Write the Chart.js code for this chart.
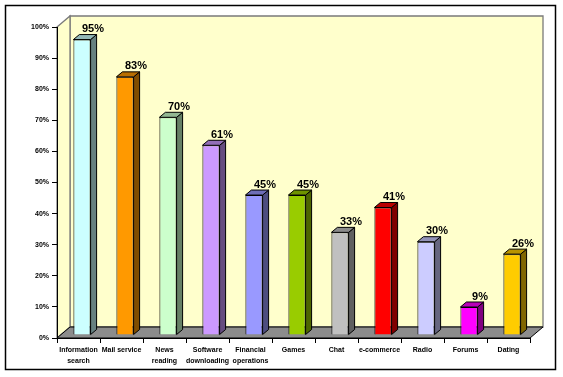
<!DOCTYPE html>
<html>
<head>
<meta charset="utf-8">
<script src="https://cdn.jsdelivr.net/npm/chart.js@4"></script>
<style>
  html, body { margin: 0; padding: 0; background: #fff; }
  #wrap { width: 563px; height: 377px; }
</style>
</head>
<body>
<div id="wrap"><canvas id="chart" width="563" height="377"></canvas></div>
<script>
// internet usage by activity, 3D column look
const categories = [
  ["Information", "search"], "Mail service", ["News", "reading"],
  ["Software", "downloading"], ["Financial", "operations"], "Games",
  "Chat", "e-commerce", "Radio", "Forums", "Dating"
];
const shares = [95, 83, 70, 61, 45, 45, 33, 41, 30, 9, 26];
const yTicks = [0, 10, 20, 30, 40, 50, 60, 70, 80, 90, 100];

const faceColors = [
  "#CCFFFF", "#FF9900", "#CCFFCC", "#CC99FF", "#9999FF", "#99CC00",
  "#C0C0C0", "#FF0000", "#CCCCFF", "#FF00FF", "#FFCC00"
];

const FONT = "'Liberation Sans', Arial, sans-serif";
const DEPTH_X = 13, DEPTH_Y = -11;      // floor / wall depth
const BAR_DX = 3.5, BAR_DY = -3;        // bar placed in middle of floor
const SIDE_X = 6, SIDE_Y = -5;          // bar thickness

function shade(hex, k) {
  const n = parseInt(hex.slice(1), 16);
  const r = Math.round(((n >> 16) & 255) * k);
  const g = Math.round(((n >> 8) & 255) * k);
  const b = Math.round((n & 255) * k);
  return `rgb(${r},${g},${b})`;
}

function poly(ctx, pts, fill, stroke, lw) {
  ctx.beginPath();
  ctx.moveTo(pts[0][0], pts[0][1]);
  for (let i = 1; i < pts.length; i++) ctx.lineTo(pts[i][0], pts[i][1]);
  ctx.closePath();
  if (fill) { ctx.fillStyle = fill; ctx.fill(); }
  if (stroke) { ctx.strokeStyle = stroke; ctx.lineWidth = lw || 1; ctx.stroke(); }
}

const frame3d = {
  id: "frame3d",
  beforeDraw(chart) {
    const { ctx, chartArea: a } = chart;
    ctx.save();
    ctx.fillStyle = "#fff";
    ctx.fillRect(0, 0, chart.width, chart.height);
    // back wall
    poly(ctx, [[a.left + DEPTH_X, a.top + DEPTH_Y], [a.right + DEPTH_X, a.top + DEPTH_Y],
               [a.right + DEPTH_X, a.bottom + DEPTH_Y], [a.left + DEPTH_X, a.bottom + DEPTH_Y]],
         "#FFFFCC", "#7a7a7a", 1.3);
    // side wall
    poly(ctx, [[a.left, a.top], [a.left + DEPTH_X, a.top + DEPTH_Y],
               [a.left + DEPTH_X, a.bottom + DEPTH_Y], [a.left, a.bottom]],
         "#FFFFCC", "#7a7a7a", 1.3);
    // floor
    poly(ctx, [[a.left, a.bottom], [a.right, a.bottom],
               [a.right + DEPTH_X, a.bottom + DEPTH_Y], [a.left + DEPTH_X, a.bottom + DEPTH_Y]],
         "#8C8C8C", "#000");
    ctx.restore();
  },
  beforeDatasetsDraw(chart) {
    chart.ctx.save();
    chart.ctx.translate(BAR_DX, BAR_DY);
  },
  afterDatasetsDraw(chart) {
    const ctx = chart.ctx;
    const meta = chart.getDatasetMeta(0);
    meta.data.forEach((bar, i) => {
      const l = bar.x - bar.width / 2, r = bar.x + bar.width / 2;
      const t = bar.y, b = bar.base;
      const c = faceColors[i];
      poly(ctx, [[r, t], [r + SIDE_X, t + SIDE_Y], [r + SIDE_X, b + SIDE_Y], [r, b]],
           shade(c, 0.5), "#000");
      poly(ctx, [[l, t], [r, t], [r + SIDE_X, t + SIDE_Y], [l + SIDE_X, t + SIDE_Y]],
           shade(c, 0.72), "#000");
    });
    ctx.restore();
    // value labels
    ctx.save();
    ctx.font = `bold 11px ${FONT}`;
    ctx.fillStyle = "#000";
    ctx.textAlign = "center";
    ctx.textBaseline = "middle";
    meta.data.forEach((bar, i) => {
      ctx.fillText(shares[i] + "%", bar.x + 14.5, bar.y - 13.5);
    });
    // outer frame
    ctx.strokeStyle = "#000";
    ctx.lineWidth = 1.5;
    ctx.strokeRect(5.5, 5.5, 550, 364);
    ctx.restore();
  }
};

new Chart(document.getElementById("chart"), {
  type: "bar",
  data: {
    labels: categories,
    datasets: [{
      data: shares,
      backgroundColor: faceColors,
      borderColor: "#000",
      borderWidth: 1,
      barPercentage: 0.4,
      categoryPercentage: 1
    }]
  },
  options: {
    responsive: false,
    animation: false,
    layout: { padding: { top: 27, right: 33, left: 0, bottom: 0 } },
    plugins: {
      legend: { display: false },
      tooltip: { enabled: false }
    },
    scales: {
      x: {
        grid: { offset: true, drawOnChartArea: false, tickLength: 5, color: "#000" },
        border: { display: true, color: "#000" },
        ticks: {
          maxRotation: 0, autoSkip: false, padding: 2, color: "#000",
          font: { family: FONT, size: 7, weight: "bold", lineHeight: 1.55 }
        },
        afterFit(scale) { scale.height = 39; }
      },
      y: {
        min: 0, max: 100,
        afterBuildTicks(scale) { scale.ticks = yTicks.map(v => ({ value: v })); },
        grid: { drawOnChartArea: false, tickLength: 5, color: "#000" },
        border: { display: true, color: "#000" },
        ticks: {
          padding: 3, color: "#000",
          font: { family: FONT, size: 7, weight: "bold" },
          callback: v => v + "%"
        },
        afterFit(scale) { scale.width = 57; }
      }
    }
  },
  plugins: [frame3d]
});
</script>
</body>
</html>
